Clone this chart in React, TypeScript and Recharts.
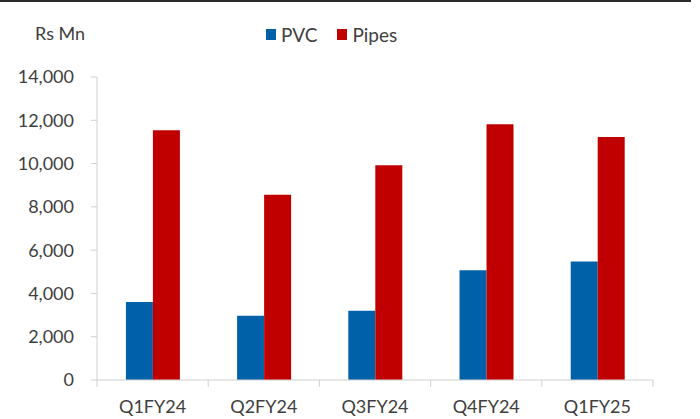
import { BarChart, Bar, XAxis, YAxis, Legend } from "recharts"

const quarters = ["Q1FY24", "Q2FY24", "Q3FY24", "Q4FY24", "Q1FY25"]
const pvc = [3600, 2970, 3200, 5070, 5470]
const pipes = [11540, 8560, 9920, 11820, 11230]
const yTicks = [0, 2000, 4000, 6000, 8000, 10000, 12000, 14000]

const data = quarters.map((q, i) => ({ quarter: q, pvc: pvc[i], pipes: pipes[i] }))

const TEXT = "#404040"
const AXIS = "#d0d0d0"
const FONT = "Lato, 'Open Sans', sans-serif"
const X_TICK_SIZE = 6
const X_TICK_MARGIN = 14

const LegendContent = ({ payload }: any) => (
  <div style={{ display: "flex", alignItems: "center", fontFamily: FONT, fontSize: 19, color: TEXT }}>
    {payload?.map((p: any, i: number) => (
      <div key={i} style={{ display: "flex", alignItems: "center", marginRight: 20 }}>
        <span style={{ width: 10, height: 11, backgroundColor: p.color, display: "inline-block", marginRight: 5 }} />
        <span>{p.value}</span>
      </div>
    ))}
  </div>
)

// category label at the band centre, tick marks at the band edges
const XTick = ({ x, y, payload, index, visibleTicksCount }: any) => {
  const half = payload?.offset ?? 0
  const axisY = y - X_TICK_SIZE - X_TICK_MARGIN
  const last = index === visibleTicksCount - 1
  return (
    <g>
      <line x1={x - half} x2={x - half} y1={axisY} y2={axisY + 7} stroke={AXIS} />
      {last && <line x1={x + half} x2={x + half} y1={axisY} y2={axisY + 7} stroke={AXIS} />}
      <text x={x} y={y} dy="0.71em" textAnchor="middle" fontSize={18} fill={TEXT} fontFamily={FONT}>
        {payload.value}
      </text>
    </g>
  )
}

export default function App() {
  return (
    <div style={{ position: "absolute", top: 0, left: 0, width: 700, height: 419, background: "#fff" }}>
      <div style={{ position: "absolute", top: 0, left: 0, width: 691, height: 2, background: "#2b2b2b" }} />
      <div style={{ position: "absolute", top: 22, left: 35, fontFamily: FONT, fontSize: 18, color: TEXT }}>Rs Mn</div>
      <BarChart
        width={700}
        height={419}
        data={data}
        margin={{ top: 54, right: 47, left: 0, bottom: 0 }}
        barCategoryGap="26%"
        barGap={0}
      >
        <Legend
          content={<LegendContent />}
          verticalAlign="top"
          wrapperStyle={{ position: "absolute", top: 23, left: 266, width: "auto" }}
        />
        <YAxis
          domain={[0, 14000]}
          ticks={yTicks}
          width={97}
          tickSize={6}
          tickMargin={17}
          tickFormatter={(v: number) => v.toLocaleString("en-US")}
          tick={{ fontSize: 18, fill: TEXT, fontFamily: FONT }}
          axisLine={{ stroke: AXIS }}
          tickLine={{ stroke: AXIS }}
        />
        <XAxis
          dataKey="quarter"
          height={39}
          interval={0}
          tickLine={false}
          tickSize={X_TICK_SIZE}
          tickMargin={X_TICK_MARGIN}
          tick={<XTick />}
          axisLine={{ stroke: AXIS }}
        />
        <Bar dataKey="pvc" name="PVC" fill="#0061a8" isAnimationActive={false} />
        <Bar dataKey="pipes" name="Pipes" fill="#c00000" isAnimationActive={false} />
      </BarChart>
    </div>
  )
}
